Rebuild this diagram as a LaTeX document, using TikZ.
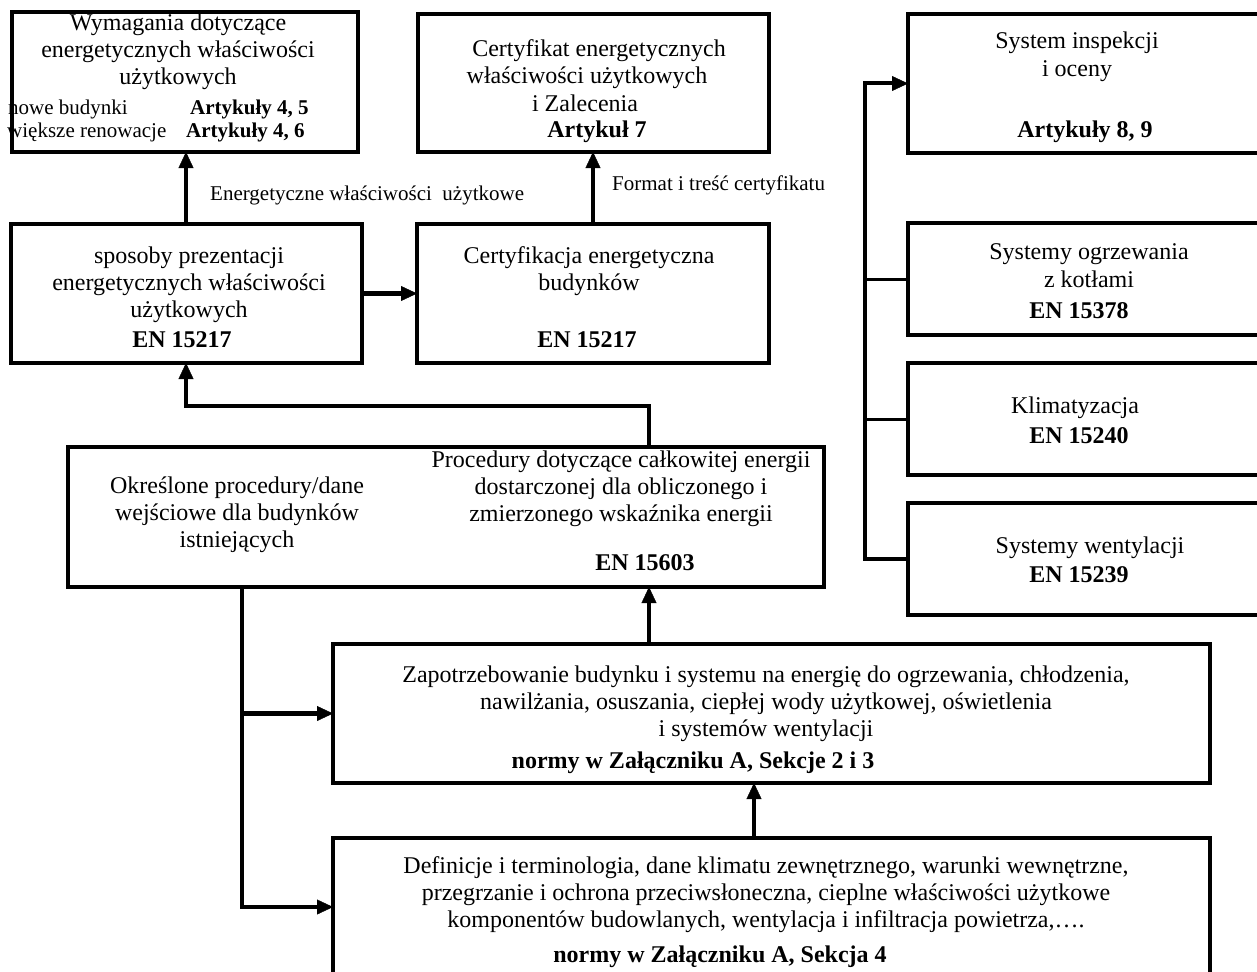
\documentclass[tikz,border=0pt]{standalone}
\usepackage{fontspec}
\setmainfont{Liberation Serif}
\usetikzlibrary{arrows.meta,fit}
\newcommand\mlines[1]{\begin{tabular}[t]{@{}c@{}}#1\end{tabular}}
\begin{document}
\begin{tikzpicture}[x=1pt,y=-1pt,
  box/.style={draw, line width=4pt, inner sep=0pt, outer sep=0pt},
  big/.style={font=\fontsize{24}{27}\selectfont, inner sep=0pt},
  bigb/.style={font=\fontsize{24}{27}\selectfont\bfseries, inner sep=0pt},
  small/.style={font=\fontsize{21}{24}\selectfont, inner sep=0pt},
  smallb/.style={font=\fontsize{21}{24}\selectfont\bfseries, inner sep=0pt},
  conn/.style={line width=4.5pt},
  arr/.style={line width=4.5pt, -{Triangle[length=16pt,width=15pt,line width=0.4pt]}},
]
\useasboundingbox (0,0) rectangle (1257,971);
\clip (0,0) rectangle (1257,971);

% ---------- texts ----------
% A
\node[big, anchor=base] (tA) at (178,31) {\mlines{Wymagania dotyczące\\energetycznych właściwości\\użytkowych}};
\node[small, anchor=base west] (tA4) at (8,114) {nowe budynki};
\node[small, anchor=base west] (tA5) at (7,137) {większe renowacje};
\node[smallb, anchor=base west] (tA4b) at (190,114) {Artykuły 4, 5};
\node[smallb, anchor=base west] (tA5b) at (186,137) {Artykuły 4, 6};
% B
\node[big, anchor=base] (tB1) at (599,57) {Certyfikat energetycznych};
\node[big, anchor=base] (tB2) at (587,84) {właściwości użytkowych};
\node[big, anchor=base] (tB3) at (585,111) {i Zalecenia};
\node[bigb, anchor=base] (tB4) at (597,137) {Artykuł 7};
% labels
\node[small, anchor=base west] (lab1) at (210,200) {Energetyczne właściwości\ \ użytkowe};
\node[small, anchor=base west] (lab2) at (612,190) {Format i treść certyfikatu};
% C
\node[big, anchor=base] (tC) at (189,263) {\mlines{sposoby prezentacji\\energetycznych właściwości\\użytkowych}};
\node[bigb, anchor=base] (tC2) at (182,347) {EN 15217};
% D
\node[big, anchor=base] (tD) at (589,263) {\mlines{Certyfikacja energetyczna\\budynków}};
\node[bigb, anchor=base] (tD2) at (587,347) {EN 15217};
% E
\node[big, anchor=base] (tE1) at (237,493) {\mlines{Określone procedury/dane\\wejściowe dla budynków\\istniejących}};
\node[big, anchor=base] (tE2) at (621,467) {\mlines{Procedury dotyczące całkowitej energii\\dostarczonej dla obliczonego i\\zmierzonego wskaźnika energii}};
\node[bigb, anchor=base] (tE3) at (645,570) {EN 15603};
% F
\node[big, anchor=base] (tF1) at (766,682) {\mlines{Zapotrzebowanie budynku i systemu na energię do ogrzewania, chłodzenia,\\nawilżania, osuszania, ciepłej wody użytkowej, oświetlenia\\i systemów wentylacji}};
\node[bigb, anchor=base] (tF2) at (693,768) {normy w Załączniku A, Sekcje 2 i 3};
% G
\node[big, anchor=base] (tG1) at (766,873) {\mlines{Definicje i terminologia, dane klimatu zewnętrznego, warunki wewnętrzne,\\przegrzanie i ochrona przeciwsłoneczna, cieplne właściwości użytkowe\\komponentów budowlanych, wentylacja i infiltracja powietrza,….}};
\node[bigb, anchor=base] (tG2) at (720,962) {normy w Załączniku A, Sekcja 4};
% right column
\node[big, anchor=base] (tS1a) at (1077,49) {System inspekcji};
\node[big, anchor=base] (tS1b) at (1077,77) {i oceny};
\node[bigb, anchor=base] (tS1c) at (1085,137) {Artykuły 8, 9};
\node[big, anchor=base] (tS2a) at (1089,259) {Systemy ogrzewania};
\node[big, anchor=base] (tS2b) at (1089,287) {z kotłami};
\node[bigb, anchor=base] (tS2c) at (1079,318) {EN 15378};
\node[big, anchor=base] (tS3a) at (1075,413) {Klimatyzacja};
\node[bigb, anchor=base] (tS3b) at (1079,443) {EN 15240};
\node[big, anchor=base] (tS4a) at (1090,553) {Systemy wentylacji};
\node[bigb, anchor=base] (tS4b) at (1079,582) {EN 15239};

% ---------- boxes ----------
\node[box, fit={(12,12.5) (358,152)}] (A) {};
\node[box, fit={(418,14) (769,152)}] (B) {};
\node[box, fit={(11,224) (362,363)}] (C) {};
\node[box, fit={(417,224) (769,363)}] (D) {};
\node[box, fit={(68,447) (824,587)}] (E) {};
\node[box, fit={(333,644) (1210,783)}] (F) {};
\node[box, fit={(333,838) (1210,976)}] (G) {};
\node[box, fit={(908,14) (1266,153)}] (S1) {};
\node[box, fit={(908,223) (1266,335)}] (S2) {};
\node[box, fit={(908,363) (1266,475)}] (S3) {};
\node[box, fit={(908,503) (1266,615)}] (S4) {};

% ---------- connectors ----------
\coordinate (xa) at (186,0);
\coordinate (xb) at (593,0);
\coordinate (xe) at (649,0);
\coordinate (xl) at (242,0);
\coordinate (xg) at (754,0);
\coordinate (xr) at (865,0);
\coordinate (ya) at (0,406);

\draw[arr] (xa |- C.north) -- (xa |- A.south);
\draw[arr] (xb |- D.north) -- (xb |- B.south);
\draw[arr] (C.east) -- (D.west);
\draw[arr] (xe |- E.north) -- (xe |- ya) -- (xa |- ya) -- (xa |- C.south);
\draw[arr] (xl |- E.south) -- (xl |- G.west) -- (G.west);
\draw[arr] (xl |- F.west) -- (F.west);
\draw[arr] (xe |- F.north) -- (xe |- E.south);
\draw[arr] (xg |- G.north) -- (xg |- F.south);

\draw[arr, line width=4pt] (S4.west) -- (xr |- S4.west) -- (xr |- S1.west) -- (S1.west);
\draw[line width=3pt] (xr |- S2.west) -- (S2.west);
\draw[line width=3pt] (xr |- S3.west) -- (S3.west);
\end{tikzpicture}
\end{document}
